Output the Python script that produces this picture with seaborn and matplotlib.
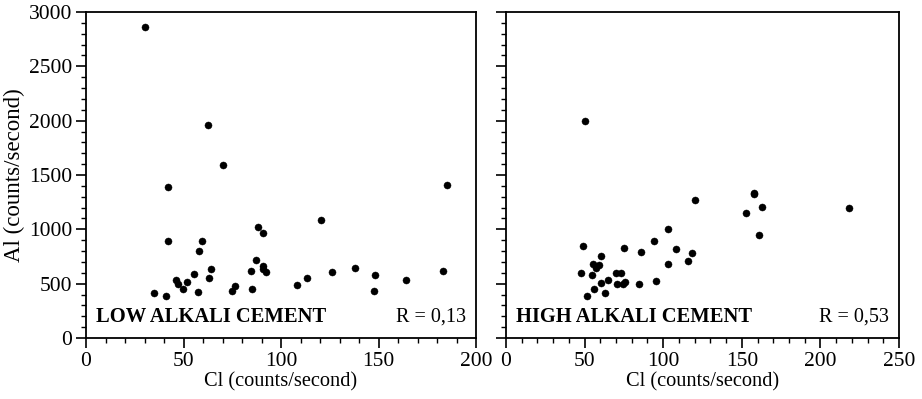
import numpy as np
import pandas as pd
import seaborn as sns
import matplotlib.pyplot as plt
from matplotlib.ticker import MultipleLocator

# low alkali cement, Cl vs Al (counts/second)
low_cl = [30.3, 62.4, 70.4, 42.2, 185.3, 120.3, 88.4, 90.6, 42.2, 59.5, 58.1, 87.4,
          64.1, 84.4, 90.6, 90.9, 92.5, 55.2, 63.2, 46.2, 47.0, 52.0, 49.9, 35.0,
          40.9, 57.3, 75.0, 76.2, 85.3, 108.2, 113.3, 126.3, 138.1, 148.2, 147.5,
          164.1, 183.1]
low_al = [2865, 1959, 1594, 1391, 1409, 1084, 1022, 970, 894, 897, 804, 719,
          633, 617, 663, 636, 611, 590, 556, 537, 497, 519, 448, 415,
          390, 424, 430, 476, 451, 488, 553, 611, 648, 577, 433,
          531, 614]

# high alkali cement
high_cl = [50.3, 158.0, 158.0, 120.2, 163.1, 218.0, 152.9, 160.9, 103.3, 94.4, 49.2,
           75.1, 107.9, 86.1, 118.1, 60.2, 115.8, 103.3, 55.6, 59.2, 57.5, 54.7,
           47.9, 70.2, 73.4, 65.1, 60.2, 70.8, 74.2, 75.5, 84.4, 95.2, 56.0, 63.0, 51.7]
high_al = [1993, 1336, 1323, 1271, 1204, 1198, 1148, 952, 1001, 894, 847,
           832, 820, 792, 783, 755, 712, 682, 682, 676, 645, 583,
           596, 596, 599, 537, 504, 497, 494, 516, 494, 528, 451, 418, 384]

panels = [
    ("LOW ALKALI CEMENT", "R = 0,13", low_cl, low_al, 200),
    ("HIGH ALKALI CEMENT", "R = 0,53", high_cl, high_al, 250),
]

sns.set_style("ticks")
plt.rcParams['font.family'] = ['Liberation Serif', 'DejaVu Serif']
plt.rcParams['text.color'] = 'black'
plt.rcParams['axes.labelcolor'] = 'black'

fig = plt.figure(figsize=(9.22, 3.99), dpi=100)
ax1 = fig.add_axes([86 / 922, 1 - 338 / 399, 390 / 922, 326 / 399])
ax2 = fig.add_axes([506 / 922, 1 - 338 / 399, 393 / 922, 326 / 399])

for ax, (name, rtxt, cl, al, xmax) in zip([ax1, ax2], panels):
    df = pd.DataFrame({"Cl": cl, "Al": al})
    sns.scatterplot(data=df, x="Cl", y="Al", ax=ax, color="black", s=26,
                    edgecolor="black", linewidth=0.3)
    ax.set_xlim(0, xmax)
    ax.set_ylim(0, 3000)
    ax.xaxis.set_major_locator(MultipleLocator(50))
    ax.xaxis.set_minor_locator(MultipleLocator(10))
    ax.yaxis.set_major_locator(MultipleLocator(500))
    ax.yaxis.set_minor_locator(MultipleLocator(100))
    ax.tick_params(which="major", direction="out", length=7, width=1.2,
                   labelsize=15.5, colors="black", pad=3)
    ax.tick_params(which="minor", direction="out", length=3.5, width=1,
                   colors="black")
    for sp in ax.spines.values():
        sp.set_linewidth(1.3)
        sp.set_color("black")
    ax.set_xlabel("Cl (counts/second)", fontsize=14.7, labelpad=1)
    ax.text(0.025, 0.035, name, transform=ax.transAxes, fontsize=14.8,
            fontweight="bold", ha="left", va="bottom")
    ax.text(0.975, 0.035, rtxt, transform=ax.transAxes, fontsize=14.5,
            ha="right", va="bottom")

ax1.set_ylabel("Al (counts/second)", fontsize=16.5, labelpad=3)
ax2.set_ylabel("")
ax2.set_yticklabels([])

fig.savefig("out.png", dpi=100)
